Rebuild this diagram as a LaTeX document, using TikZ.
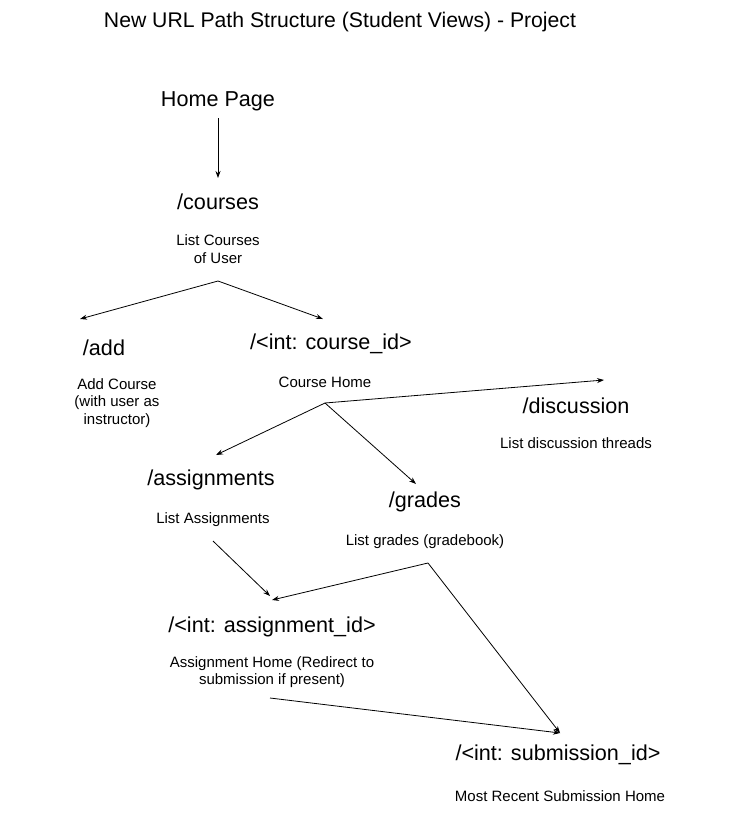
\documentclass[tikz,border=0pt]{standalone}
\usepackage{fontspec}
\setmainfont{Liberation Sans}
\usetikzlibrary{arrows.meta}
\tikzset{
  big/.style={font=\fontsize{21.6}{25}\selectfont, inner sep=0pt, anchor=center},
  small/.style={font=\fontsize{15}{17.5}\selectfont, inner sep=0pt, align=center, anchor=center},
  ttl/.style={font=\fontsize{21.2}{25}\selectfont, inner sep=0pt},
  conn/.style={-{Stealth[length=7pt,width=5pt]}, line width=0.8pt}
}
\begin{document}
\begin{tikzpicture}[x=1pt,y=-1pt]
\useasboundingbox (0,0) rectangle (734,816);
\node[ttl] (title) at (340,22) {New URL Path Structure (Student Views) - Project};
\node[big] (home) at (218,101) {Home Page};
\node[big] (courses) at (218,202) {/courses};
\node[small] (coursesd) at (218,249) {List Courses\\of User};
\node[big] (add) at (104,348) {/add};
\node[small] (addd) at (117,403) {Add Course\\(with user as\\instructor)};
\node[big] (cid) at (331,344) {/<int: course\_id>};
\node[small] (cidd) at (325,382) {Course Home};
\node[big] (disc) at (576,406) {/discussion};
\node[small] (discd) at (576,443) {List discussion threads};
\node[big] (asg) at (211,480) {/assignments};
\node[small] (asgd) at (213,520) {List Assignments};
\node[big] (grd) at (425,502) {/grades};
\node[small] (grdd) at (425,542) {List grades (gradebook)};
\node[big] (aid) at (272,627) {/<int: assignment\_id>};
\node[small] (aidd) at (272,672) {Assignment Home (Redirect to\\submission if present)};
\node[big] (sid) at (558,755) {/<int: submission\_id>};
\node[small] (sidd) at (560,796) {Most Recent Submission Home};
% connector points
\coordinate (homeS) at (218,118);
\coordinate (coursesN) at (218,178);
\coordinate (cfork) at (218,281);
\coordinate (addN) at (80,319);
\coordinate (cidN) at (323,319);
\coordinate (chfork) at (325,403);
\coordinate (discN) at (604,380);
\coordinate (asgN) at (216,455);
\coordinate (grdN) at (416,484);
\coordinate (asgS) at (213,541);
\coordinate (grfork) at (428,563);
\coordinate (aidN1) at (270,596);
\coordinate (aidN2) at (272,600);
\coordinate (aidS) at (270,698);
\coordinate (sidN) at (560,733);
\draw[conn] (homeS) -- (coursesN);
\draw[conn] (cfork) -- (addN);
\draw[conn] (cfork) -- (cidN);
\draw[conn] (chfork) -- (discN);
\draw[conn] (chfork) -- (asgN);
\draw[conn] (chfork) -- (grdN);
\draw[conn] (asgS) -- (aidN1);
\draw[conn] (grfork) -- (aidN2);
\draw[conn] (grfork) -- (sidN);
\draw[conn] (aidS) -- (sidN);
\end{tikzpicture}
\end{document}
